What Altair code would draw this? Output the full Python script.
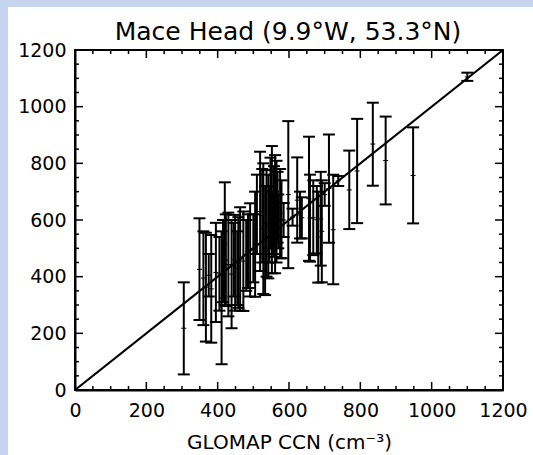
import altair as alt
import pandas as pd

# GLOMAP CCN (x), observed range (lo, hi) and centre value
gx  = [305, 349, 360, 367, 382, 395, 411, 420, 423, 430, 439, 449, 463, 472, 491, 505,
       519, 528, 533, 537, 542, 552, 561, 565, 575, 579, 598, 623, 631, 636, 656, 659,
       668, 678, 682, 689, 692, 712, 724, 738, 769, 791, 835, 871, 948, 1100,
       480, 500, 545, 555, 570, 585, 610, 700, 455, 375,
       510, 525, 548, 558, 568, 405, 415, 445, 458, 485]
lo  = [55, 247, 229, 171, 167, 240, 91, 300, 296, 260, 218, 280, 280, 279, 330, 329,
       420, 339, 335, 400, 394, 412, 412, 450, 465, 465, 430, 520, 535, 535, 456, 453,
       476, 482, 379, 439, 380, 520, 373, 720, 568, 589, 721, 655, 588, 1091,
       350, 380, 450, 480, 500, 540, 580, 650, 300, 330,
       480, 450, 500, 470, 520, 280, 310, 330, 290, 360]
hi  = [380, 606, 560, 555, 547, 590, 560, 733, 620, 626, 600, 618, 645, 630, 659, 700,
       841, 800, 720, 776, 760, 861, 829, 809, 780, 740, 949, 821, 700, 680, 894, 760,
       740, 720, 700, 770, 740, 902, 760, 755, 845, 957, 1014, 965, 927, 1120,
       600, 620, 720, 700, 690, 660, 640, 730, 560, 480,
       760, 780, 820, 790, 770, 540, 600, 590, 610, 620]
ctr = [218, 426, 395, 363, 357, 415, 325, 516, 458, 443, 409, 449, 462, 455, 495, 515,
       630, 570, 528, 588, 577, 636, 620, 630, 622, 602, 690, 670, 618, 608, 675, 606,
       608, 601, 540, 604, 560, 711, 566, 738, 706, 773, 868, 810, 757, 1105,
       475, 500, 585, 590, 595, 600, 610, 690, 430, 405,
       620, 615, 660, 630, 645, 410, 455, 460, 450, 490]

major_ticks = [0, 200, 400, 600, 800, 1000, 1200]
minor_ticks = [50, 100, 150, 250, 300, 350, 450, 500, 550, 650, 700, 750,
               850, 900, 950, 1050, 1100, 1150]
one_to_one = [0, 1200]
title_text = ["Mace Head (9.9°W, 53.3°N)"]

W, H = 428, 340
PL, PT, PR, PB = 75, 50, 30, 65
BLUE = "#c5d5ef"
FONT = "DejaVu Sans"

df = pd.DataFrame({"gx": gx, "lo": lo, "hi": hi, "ctr": ctr})
df_major = pd.DataFrame({"v": major_ticks})
df_minor = pd.DataFrame({"v": minor_ticks})
df_line = pd.DataFrame({"a": one_to_one, "b": one_to_one})
df_one = pd.DataFrame({"k": [0]})
df_title = pd.DataFrame({"t": title_text})

xs = alt.Scale(domain=[0, 1200], nice=False, zero=True)
ys = alt.Scale(domain=[0, 1200], nice=False, zero=True)

xaxis = alt.Axis(values=major_ticks, format="d", ticks=False, grid=False,
                 labelFont=FONT, labelFontSize=19, labelColor="black",
                 labelPadding=11, domainColor="black", domainWidth=2,
                 title="GLOMAP CCN (cm⁻³)", titleFont=FONT, titleFontSize=20,
                 titleFontWeight="normal", titleColor="black", titlePadding=12,
                 labelFlush=False)
yaxis = alt.Axis(values=major_ticks, format="d", ticks=False, grid=False,
                 labelFont=FONT, labelFontSize=19, labelColor="black",
                 labelPadding=9, domainColor="black", domainWidth=2, title=None,
                 labelFlush=False)

line = alt.Chart(df_line).mark_line(color="black", strokeWidth=2.2).encode(
    x=alt.X("a:Q", scale=xs, axis=xaxis),
    y=alt.Y("b:Q", scale=ys, axis=yaxis),
)

bars = alt.Chart(df).mark_rule(color="black", strokeWidth=2).encode(
    x=alt.X("gx:Q", scale=xs), y=alt.Y("lo:Q", scale=ys), y2="hi:Q")
cap_lo = alt.Chart(df).mark_tick(color="black", orient="horizontal", size=12,
                                 thickness=2, opacity=1).encode(
    x=alt.X("gx:Q", scale=xs), y=alt.Y("lo:Q", scale=ys))
cap_hi = alt.Chart(df).mark_tick(color="black", orient="horizontal", size=12,
                                 thickness=2, opacity=1).encode(
    x=alt.X("gx:Q", scale=xs), y=alt.Y("hi:Q", scale=ys))
mid = alt.Chart(df).mark_tick(color="black", orient="horizontal", size=5,
                              thickness=1, opacity=1).encode(
    x=alt.X("gx:Q", scale=xs), y=alt.Y("ctr:Q", scale=ys))


def tick_layers(data, length):
    common = dict(color="black", strokeWidth=1.5)
    bottom = alt.Chart(data).mark_rule(**common).encode(
        x=alt.X("v:Q", scale=xs), y=alt.value(H), y2=alt.value(H - length))
    top = alt.Chart(data).mark_rule(**common).encode(
        x=alt.X("v:Q", scale=xs), y=alt.value(0), y2=alt.value(length))
    left = alt.Chart(data).mark_rule(**common).encode(
        y=alt.Y("v:Q", scale=ys), x=alt.value(0), x2=alt.value(length))
    right = alt.Chart(data).mark_rule(**common).encode(
        y=alt.Y("v:Q", scale=ys), x=alt.value(W), x2=alt.value(W - length))
    return [bottom, top, left, right]


strip_left = alt.Chart(df_one).mark_rect(color=BLUE).encode(
    x=alt.value(-PL), x2=alt.value(-PL + 8), y=alt.value(-PT), y2=alt.value(H + PB))
strip_top = alt.Chart(df_one).mark_rect(color=BLUE).encode(
    x=alt.value(-PL), x2=alt.value(W + PR), y=alt.value(-PT), y2=alt.value(-PT + 7))

title = alt.Chart(df_title).mark_text(font=FONT, fontSize=25, color="black",
                                      baseline="alphabetic", align="center").encode(
    x=alt.value(W / 2 - 1), y=alt.value(-10), text="t:N")

layers = [line, strip_left, strip_top, bars, cap_lo, cap_hi, mid, title] + \
    tick_layers(df_major, 8) + tick_layers(df_minor, 4)

chart = alt.layer(*layers).properties(
    width=W, height=H,
    padding={"left": PL, "top": PT, "right": PR, "bottom": PB},
    autosize=alt.AutoSizeParams(type="none"),
    background="white",
).configure_view(stroke="black", strokeWidth=2)

chart.save("out.html", embed_options={"renderer": "svg", "actions": False})
